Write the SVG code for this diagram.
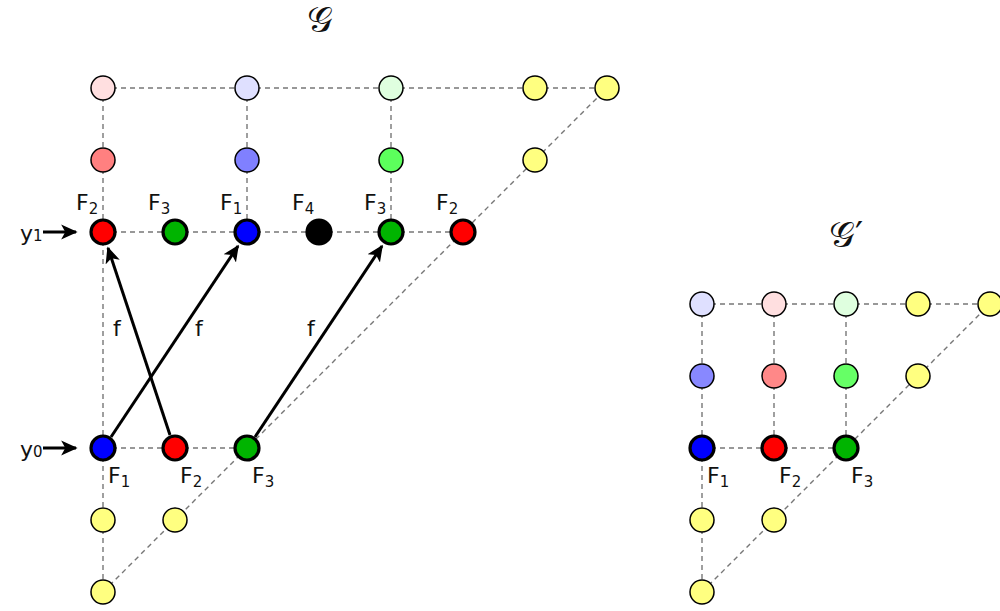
<svg xmlns="http://www.w3.org/2000/svg" width="1000" height="611" viewBox="0 0 1000 611">
<style>
.d{stroke:#777;stroke-width:1.4;stroke-dasharray:5,4;fill:none}
.n{stroke:#000;stroke-width:1.5}
.t{stroke:#000;stroke-width:3.2}
.lab{font-family:"DejaVu Sans",sans-serif;font-size:22px;fill:#111}
.sub{font-size:15px}
.ttl{font-family:"DejaVu Serif",serif;font-size:36px;font-weight:normal;fill:#111}
.ar{stroke:#000;stroke-width:3;fill:none}
</style>
<defs>
<marker id="ah" viewBox="0 0 10 10" refX="9" refY="5" markerWidth="5.5" markerHeight="5.5" orient="auto" markerUnits="strokeWidth">
<path d="M0,0.5 L10,5 L0,9.5 L2.5,5 z" fill="#000"/>
</marker>
</defs>
<rect width="1000" height="611" fill="#fff"/>
<g id="grid-lines">
<path class="d" d="M103,88 H607 M103,88 V592 M247,88 V232 M391,88 V232 M103,232 H463 M103,448 H247 M103,592 L607,88"/>
<path class="d" d="M702,304 H990 M702,304 V592 M774,304 V448 M846,304 V448 M702,448 H846 M702,592 L990,304"/>
</g>
<g id="connectors">
<line class="ar" x1="111" y1="437" x2="238" y2="246" marker-end="url(#ah)"/>
<line class="ar" x1="170" y1="435" x2="108" y2="248" marker-end="url(#ah)"/>
<line class="ar" x1="255" y1="437" x2="382" y2="246" marker-end="url(#ah)"/>
<line class="ar" x1="43" y1="232" x2="76" y2="232" marker-end="url(#ah)"/>
<line class="ar" x1="43" y1="448" x2="76" y2="448" marker-end="url(#ah)"/>
</g>
<g id="labels">
<text class="ttl" x="320" y="32" text-anchor="middle">𝒢</text>
<text class="ttl" x="846" y="247" text-anchor="middle">𝒢′</text>
<text class="lab" x="20" y="241">y<tspan class="sub">1</tspan></text>
<text class="lab" x="20" y="457">y<tspan class="sub">0</tspan></text>
<text class="lab" x="113" y="336">f</text>
<text class="lab" x="195" y="336">f</text>
<text class="lab" x="307" y="336">f</text>
<text class="lab" x="76" y="210">F<tspan class="sub" dy="4">2</tspan></text>
<text class="lab" x="148" y="210">F<tspan class="sub" dy="4">3</tspan></text>
<text class="lab" x="220" y="210">F<tspan class="sub" dy="4">1</tspan></text>
<text class="lab" x="292" y="210">F<tspan class="sub" dy="4">4</tspan></text>
<text class="lab" x="364" y="210">F<tspan class="sub" dy="4">3</tspan></text>
<text class="lab" x="436" y="210">F<tspan class="sub" dy="4">2</tspan></text>
<text class="lab" x="108" y="483">F<tspan class="sub" dy="4">1</tspan></text>
<text class="lab" x="180" y="483">F<tspan class="sub" dy="4">2</tspan></text>
<text class="lab" x="252" y="483">F<tspan class="sub" dy="4">3</tspan></text>
<text class="lab" x="707" y="483">F<tspan class="sub" dy="4">1</tspan></text>
<text class="lab" x="779" y="483">F<tspan class="sub" dy="4">2</tspan></text>
<text class="lab" x="851" y="483">F<tspan class="sub" dy="4">3</tspan></text>
</g>
<g id="nodes-G">
<circle id="g-a1" class="n" cx="103" cy="88" r="12" fill="#ffdfe0"/>
<circle id="g-a2" class="n" cx="247" cy="88" r="12" fill="#dfe0ff"/>
<circle id="g-a3" class="n" cx="391" cy="88" r="12" fill="#dfffdf"/>
<circle id="g-a4" class="n" cx="535" cy="88" r="12" fill="#ffff80"/>
<circle id="g-a5" class="n" cx="607" cy="88" r="12" fill="#ffff80"/>
<circle id="g-b1" class="n" cx="103" cy="160" r="12" fill="#ff8080"/>
<circle id="g-b2" class="n" cx="247" cy="160" r="12" fill="#8080ff"/>
<circle id="g-b3" class="n" cx="391" cy="160" r="12" fill="#5cff5c"/>
<circle id="g-b4" class="n" cx="535" cy="160" r="12" fill="#ffff80"/>
<circle id="g-c1" class="t" cx="103" cy="232" r="12" fill="#ff0000"/>
<circle id="g-c2" class="t" cx="175" cy="232" r="12" fill="#00b400"/>
<circle id="g-c3" class="t" cx="247" cy="232" r="12" fill="#0000ff"/>
<circle id="g-c4" class="t" cx="319" cy="232" r="12" fill="#000"/>
<circle id="g-c5" class="t" cx="391" cy="232" r="12" fill="#00b400"/>
<circle id="g-c6" class="t" cx="463" cy="232" r="12" fill="#ff0000"/>
<circle id="g-d1" class="t" cx="103" cy="448" r="12" fill="#0000ff"/>
<circle id="g-d2" class="t" cx="175" cy="448" r="12" fill="#ff0000"/>
<circle id="g-d3" class="t" cx="247" cy="448" r="12" fill="#00b400"/>
<circle id="g-e1" class="n" cx="103" cy="520" r="12" fill="#ffff80"/>
<circle id="g-e2" class="n" cx="175" cy="520" r="12" fill="#ffff80"/>
<circle id="g-f1" class="n" cx="103" cy="592" r="12" fill="#ffff80"/>
</g>
<g id="nodes-Gp">
<circle id="h-a1" class="n" cx="702" cy="304" r="12" fill="#dfe0ff"/>
<circle id="h-a2" class="n" cx="774" cy="304" r="12" fill="#ffdfe0"/>
<circle id="h-a3" class="n" cx="846" cy="304" r="12" fill="#dfffdf"/>
<circle id="h-a4" class="n" cx="918" cy="304" r="12" fill="#ffff80"/>
<circle id="h-a5" class="n" cx="990" cy="304" r="12" fill="#ffff80"/>
<circle id="h-b1" class="n" cx="702" cy="376" r="12" fill="#8888ff"/>
<circle id="h-b2" class="n" cx="774" cy="376" r="12" fill="#ff8888"/>
<circle id="h-b3" class="n" cx="846" cy="376" r="12" fill="#66ff66"/>
<circle id="h-b4" class="n" cx="918" cy="376" r="12" fill="#ffff80"/>
<circle id="h-c1" class="t" cx="702" cy="448" r="12" fill="#0000ff"/>
<circle id="h-c2" class="t" cx="774" cy="448" r="12" fill="#ff0000"/>
<circle id="h-c3" class="t" cx="846" cy="448" r="12" fill="#00b400"/>
<circle id="h-d1" class="n" cx="702" cy="520" r="12" fill="#ffff80"/>
<circle id="h-d2" class="n" cx="774" cy="520" r="12" fill="#ffff80"/>
<circle id="h-e1" class="n" cx="702" cy="592" r="12" fill="#ffff80"/>
</g>
</svg>
